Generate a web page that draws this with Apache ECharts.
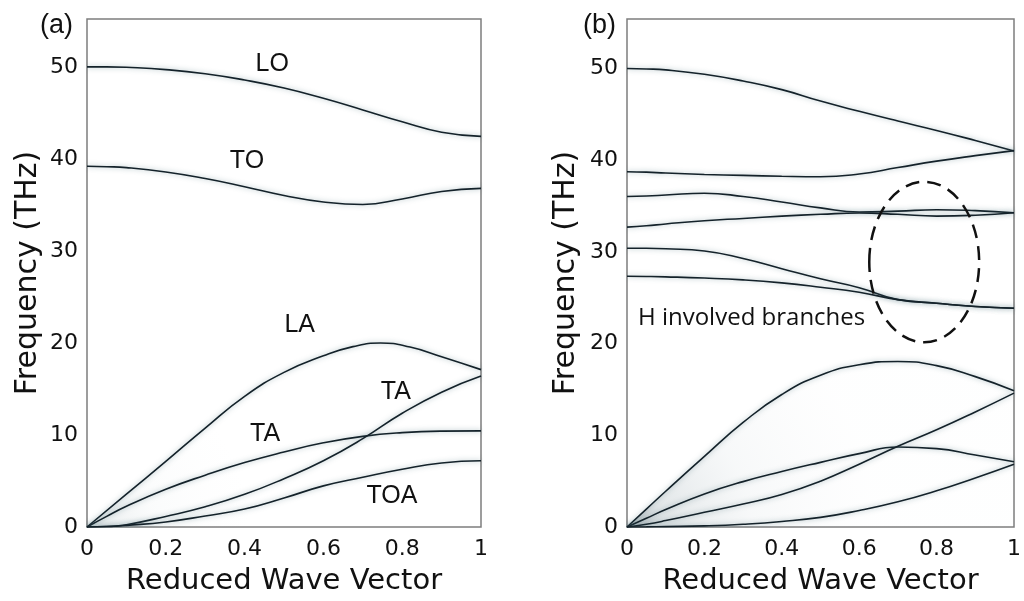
<!DOCTYPE html>
<html>
<head>
<meta charset="utf-8">
<script src="https://cdn.jsdelivr.net/npm/echarts@6/dist/echarts.min.js"></script>
<style>
  html, body { margin: 0; padding: 0; background: #ffffff; }
  #chart { width: 1024px; height: 601px; }
</style>
</head>
<body>
<div id="chart"></div>
<script>
// Reduced wave vector sampling shared by most branches
const q = [0, 0.05, 0.1, 0.2, 0.3, 0.4, 0.5, 0.6, 0.7, 0.8, 0.9, 1];
// Finer sampling around the LA maximum of panel (a)
const qLA = [0, 0.1, 0.2, 0.3, 0.4, 0.5, 0.6, 0.675, 0.745, 0.82, 0.9, 1];

// Panel (a): phonon branches (THz)
const aLO  = [50.0, 50.0, 49.95, 49.7, 49.25, 48.57, 47.7, 46.58, 45.32, 44.03, 42.9, 42.45];
const aTO  = [39.2, 39.15, 39.05, 38.57, 37.86, 36.98, 36.03, 35.32, 35.05, 35.65, 36.45, 36.8];
const aLA  = [0, 3.57, 7.13, 10.75, 14.2, 16.8, 18.6, 19.6, 20.0, 19.55, 18.5, 17.1];
const aTA1 = [0, 1.15, 2.25, 4.1, 5.63, 7.0, 8.15, 9.15, 9.85, 10.25, 10.42, 10.45];
const aTA2 = [0, 0.05, 0.25, 1.15, 2.2, 3.55, 5.25, 7.2, 9.6, 12.36, 14.65, 16.4];
const aTOA = [0, 0.05, 0.18, 0.55, 1.2, 1.95, 3.15, 4.47, 5.41, 6.28, 6.96, 7.2];

// Panel (b): branches of the hydrogenated lattice (THz)
const bOpt1 = [50.0, 49.95, 49.85, 49.37, 48.64, 47.7, 46.45, 45.33, 44.27, 43.25, 42.15, 41.0];
const bOpt2 = [38.75, 38.7, 38.6, 38.45, 38.35, 38.25, 38.2, 38.5, 39.2, 39.9, 40.5, 41.05];
const bOpt3 = [36.05, 36.1, 36.2, 36.4, 36.05, 35.45, 34.8, 34.35, 34.45, 34.6, 34.5, 34.27];
const bOpt4 = [32.7, 32.85, 33.05, 33.4, 33.65, 33.9, 34.1, 34.25, 34.1, 33.9, 34.0, 34.27];
const bH1   = [30.4, 30.4, 30.35, 30.1, 29.28, 28.17, 27.07, 26.1, 24.8, 24.4, 24.05, 23.85];
const bH2   = [27.34, 27.32, 27.28, 27.15, 26.95, 26.62, 26.15, 25.6, 24.8, 24.4, 24.05, 23.85];
const bLA   = [0, 1.95, 3.9, 7.7, 11.4, 14.45, 16.55, 17.7, 18.05, 17.6, 16.4, 14.87];
const bTA1  = [0, 0.95, 1.9, 3.6, 4.95, 6.05, 7.05, 8.0, 8.72, 8.55, 7.85, 7.12];
const bTA2  = [0, 0.3, 0.7, 1.6, 2.5, 3.55, 5.0, 6.85, 8.8, 10.6, 12.55, 14.6];
const bTOA  = [0, 0.01, 0.04, 0.12, 0.3, 0.6, 1.05, 1.8, 2.75, 3.95, 5.35, 6.85];

// Tick labels
const xTickLabels = ['0', '0.2', '0.4', '0.6', '0.8', '1'];
const yTickLabels = ['0', '10', '20', '30', '40', '50'];

// Branch annotations for panel (a): [text, q, frequency]
const aNotes = [
  ['LO', 0.47, 50.3],
  ['TO', 0.406, 39.75],
  ['LA', 0.54, 21.9],
  ['TA', 0.784, 14.7],
  ['TA', 0.452, 10.05],
  ['TOA', 0.774, 3.35]
];

const ink = '#14222a';
const pair = (vals, xs) => (xs || q).map((x, i) => [x, vals[i]]);

function branch(vals, gi, extra, xs) {
  return Object.assign({
    type: 'line',
    xAxisIndex: gi,
    yAxisIndex: gi,
    data: pair(vals, xs),
    smooth: 0.5,
    symbol: 'none',
    silent: true,
    lineStyle: {
      color: ink,
      width: 1.6,
      shadowBlur: 5,
      shadowColor: 'rgba(70,110,120,0.5)'
    },
    z: 3
  }, extra || {});
}

const chart = echarts.init(document.getElementById('chart'), null, { renderer: 'canvas' });

const tickFont = { fontFamily: 'DejaVu Sans', fontSize: 22, color: '#111' };
const nameFont = { fontFamily: 'DejaVu Sans', color: '#111' };

function xAxisFor(gi) {
  return {
    type: 'value', gridIndex: gi, min: 0, max: 1, interval: 0.2,
    name: 'Reduced Wave Vector', nameLocation: 'middle', nameGap: 40,
    nameTextStyle: Object.assign({ fontSize: 29 }, nameFont),
    axisLine: { show: false }, axisTick: { show: false }, splitLine: { show: false },
    axisLabel: Object.assign({
      margin: 11,
      formatter: v => xTickLabels[Math.round(v / 0.2)] || ''
    }, tickFont)
  };
}
function yAxisFor(gi, max, gap) {
  return {
    type: 'value', gridIndex: gi, min: 0, max: max, interval: 10,
    name: 'Frequency (THz)', nameLocation: 'middle', nameGap: gap,
    nameTextStyle: Object.assign({ fontSize: 30 }, nameFont),
    axisLine: { show: false }, axisTick: { show: false }, splitLine: { show: false },
    axisLabel: Object.assign({
      margin: 9, showMaxLabel: false,
      formatter: v => (Math.abs(v % 10) < 1e-6 ? (yTickLabels[Math.round(v / 10)] || '') : '')
    }, tickFont)
  };
}

const hazeB = new echarts.graphic.RadialGradient(0, 1, 1.5, [
  { offset: 0, color: 'rgba(45,65,75,0.5)' },
  { offset: 0.15, color: 'rgba(90,115,125,0.25)' },
  { offset: 0.5, color: 'rgba(140,160,170,0.1)' },
  { offset: 1, color: 'rgba(190,205,210,0.02)' }
]);
const hazeA = new echarts.graphic.RadialGradient(0, 1, 0.9, [
  { offset: 0, color: 'rgba(80,110,120,0.22)' },
  { offset: 0.4, color: 'rgba(140,165,170,0.06)' },
  { offset: 1, color: 'rgba(200,215,220,0)' }
]);

const option = {
  backgroundColor: '#ffffff',
  animation: false,
  title: [
    { text: '(a)', left: 40, top: 12, padding: 0,
      textStyle: { fontFamily: 'Liberation Sans', fontSize: 27, fontWeight: 'normal', color: '#111' } },
    { text: '(b)', left: 583, top: 12, padding: 0,
      textStyle: { fontFamily: 'Liberation Sans', fontSize: 27, fontWeight: 'normal', color: '#111' } }
  ],
  grid: [
    { left: 87, top: 19, width: 394, height: 511, show: true, borderColor: '#7d7d7d', borderWidth: 1.5, backgroundColor: 'transparent' },
    { left: 627, top: 19, width: 394, height: 514, show: true, borderColor: '#7d7d7d', borderWidth: 1.5, backgroundColor: 'transparent' }
  ],
  xAxis: [xAxisFor(0), xAxisFor(1)],
  yAxis: [yAxisFor(0, 55.2, 44), yAxisFor(1, 55.4, 46)],
  series: [
    branch(aLO, 0), branch(aTO, 0),
    branch(aLA, 0, { areaStyle: { color: hazeA, origin: 'start' } }, qLA),
    branch(aTA1, 0), branch(aTA2, 0), branch(aTOA, 0),
    branch(bOpt1, 1), branch(bOpt2, 1), branch(bOpt3, 1), branch(bOpt4, 1),
    branch(bH1, 1), branch(bH2, 1),
    branch(bLA, 1, { areaStyle: { color: hazeB, origin: 'start' } }),
    branch(bTA1, 1), branch(bTA2, 1), branch(bTOA, 1)
  ]
};
chart.setOption(option);

// Text annotations and the dashed ellipse marking the H branches
const toPx = (gi, x, y) => chart.convertToPixel({ gridIndex: gi }, [x, y]);
const graphics = aNotes.map(([t, x, y]) => {
  const p = toPx(0, x, y);
  return {
    type: 'text', x: p[0], y: p[1], z: 10,
    style: { text: t, font: '25px "Liberation Sans"', fill: '#111', align: 'center', verticalAlign: 'middle' }
  };
});
const hLabel = toPx(1, 0.322, 22.8);
graphics.push({
  type: 'text', x: hLabel[0], y: hLabel[1], z: 10,
  style: { text: 'H involved branches', font: '24px "Open Sans"', fill: '#111', align: 'center', verticalAlign: 'middle' }
});
const eC = toPx(1, 0.768, 28.9);
const eR = toPx(1, 0.768 + 0.142, 28.9 + 8.75);
graphics.push({
  type: 'ellipse', z: 10,
  shape: { cx: eC[0], cy: eC[1], rx: Math.abs(eR[0] - eC[0]), ry: Math.abs(eC[1] - eR[1]) },
  style: { fill: 'none', stroke: '#111', lineWidth: 2.5, lineDash: [14, 8] }
});
chart.setOption({ graphic: graphics });
</script>
</body>
</html>
